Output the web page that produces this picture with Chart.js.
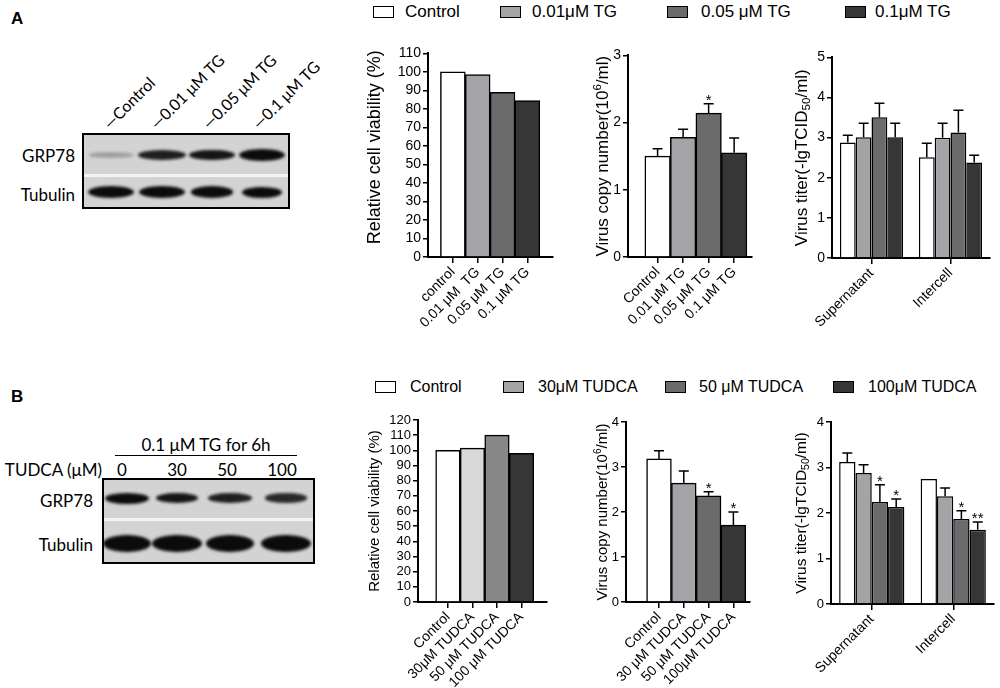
<!DOCTYPE html>
<html lang="en">
<head>
<meta charset="UTF-8">
<title>GRP78, TG and TUDCA</title>
<script src="https://cdn.jsdelivr.net/npm/chart.js"></script>
<style>
  body { margin: 0; background: #fff; }
  #page { position: relative; width: 1000px; height: 688px; overflow: hidden;
          font-family: "Liberation Sans", Arial, sans-serif; color: #000; }
  canvas.plot { position: absolute; }
  .leg { position: absolute; white-space: nowrap; line-height: 20px; }
  .box { position: absolute; width: 19px; height: 10px; border: 1.5px solid #000; }
  .panel { position: absolute; font-weight: bold; font-size: 17px; }
  .blot { position: absolute; border: 2px solid #000; background: #d3d3d3; overflow: hidden; }
  .sep { position: absolute; left: 0; right: 0; height: 3px; background: #f4f4f4; }
  .band { position: absolute; border-radius: 50%; background: #0b0b0b; filter: blur(1.6px); }
  .wb { position: absolute; font-family: Lato, "Open Sans", sans-serif; font-size: 17px; white-space: nowrap; }
</style>
</head>
<body>
<div id="page">
  <div class="panel" style="left:11px; top:9px;">A</div>
  <div class="panel" style="left:11px; top:387px;">B</div>

  <canvas class="plot" id="viabA"></canvas>
  <canvas class="plot" id="copyA"></canvas>
  <canvas class="plot" id="titerA"></canvas>
  <canvas class="plot" id="viabB"></canvas>
  <canvas class="plot" id="copyB"></canvas>
  <canvas class="plot" id="titerB"></canvas>
</div>

<script>
// ---- data ----
const tgSeries = ['Control', '0.01μM TG', '0.05 μM TG', '0.1μM TG'];
const tudcaSeries = ['Control', '30μM TUDCA', '50 μM TUDCA', '100μM TUDCA'];
const seriesColors = ['#ffffff', '#a3a3a8', '#6b6b6b', '#363636'];
const viabBColors = ['#ffffff', '#d9d9d9', '#878787', '#363636'];

const viabALabels = ['control', '0.01 μM  TG', '0.05 μM TG', '0.1 μM TG'];
const viabA = [100, 98.5, 89, 84.5];

const copyALabels = ['Control', '0.01 μM TG', '0.05 μM TG', '0.1 μM TG'];
const copyA = [1.50, 1.78, 2.14, 1.55];
const copyAErr = [0.11, 0.12, 0.14, 0.22];
const copyASig = ['', '', '*', ''];

const titerGroups = ['Supernatant', 'Intercell'];
const titerA = [[2.88, 2.51], [3.01, 3.00], [3.51, 3.13], [3.01, 2.38]];
const titerAErr = [[0.18, 0.35], [0.35, 0.36], [0.35, 0.55], [0.35, 0.18]];

const viabBLabels = ['Control', '30μM TUDCA', '50 μM TUDCA', '100 μM TUDCA'];
const viabB = [100, 101.5, 110, 98];

const copyBLabels = ['Control', '30 μM TUDCA', '50 μM TUDCA', '100μM TUDCA'];
const copyB = [3.18, 2.64, 2.36, 1.71];
const copyBErr = [0.18, 0.27, 0.09, 0.29];
const copyBSig = ['', '', '*', '*'];

const titerB = [[3.12, 2.75], [2.88, 2.37], [2.24, 1.87], [2.13, 1.63]];
const titerBErr = [[0.20, 0], [0.18, 0.18], [0.38, 0.18], [0.18, 0.17]];
const titerBSig = [['', ''], ['', ''], ['*', '*'], ['*', '**']];

// axis titles, split so the exponent / subscript can be drawn small
const viabTitle = [{ t: 'Relative cell viability (%)' }];
const copyTitle = [{ t: 'Virus copy number(10' }, { t: '6', s: 'sup' }, { t: '/ml)' }];
const titerTitle = [{ t: 'Virus titer(-lgTCID' }, { t: '50', s: 'sub' }, { t: '/ml)' }];

// western blot lanes (relative band strength)
const laneA = ['—Control', '—0.01 μM TG', '—0.05 μM TG', '—0.1 μM TG'];
const grp78A = [0.15, 0.8, 0.85, 1];
const tubulinA = [1, 1, 0.95, 0.9];
const laneB = ['0', '30', '50', '100'];
const grp78B = [1, 0.85, 0.8, 0.75];
const tubulinB = [1, 1, 1, 1];

Chart.defaults.color = '#000';
Chart.defaults.font.family = '"Liberation Sans", Arial, sans-serif';

const page = document.getElementById('page');

// upper error bars + significance marks
const errorBars = {
  id: 'errorBars',
  afterDatasetsDraw(chart, args, opts) {
    if (!opts.err) return;
    const ctx = chart.ctx, y = chart.scales.y;
    ctx.save();
    ctx.strokeStyle = '#000';
    ctx.fillStyle = '#000';
    ctx.lineWidth = 1.5;
    ctx.textAlign = 'center';
    ctx.font = '15px "Liberation Sans", Arial';
    chart.data.datasets.forEach((ds, i) => {
      chart.getDatasetMeta(i).data.forEach((bar, j) => {
        const raw = ds.data[j];
        const v = typeof raw === 'object' ? raw.y : raw;
        const e = opts.err[i][j];
        const top = y.getPixelForValue(v + e);
        if (e > 0) {
          ctx.beginPath();
          ctx.moveTo(bar.x, bar.y);
          ctx.lineTo(bar.x, top);
          ctx.moveTo(bar.x - 5, top);
          ctx.lineTo(bar.x + 5, top);
          ctx.stroke();
        }
        const s = opts.sig && opts.sig[i][j];
        if (s) ctx.fillText(s, bar.x, top + 1);
      });
    });
    ctx.restore();
  }
};

// rotated y title with real superscript / subscript
const richTitle = {
  id: 'richTitle',
  afterDraw(chart, args, o) {
    if (!o.parts) return;
    const ctx = chart.ctx, a = chart.chartArea;
    const font = p => (p.s ? o.size * 0.68 : o.size) + 'px "Liberation Sans", Arial';
    ctx.save();
    ctx.translate(a.left - o.offset, (a.top + a.bottom) / 2 + (o.shift || 0));
    ctx.rotate(-Math.PI / 2);
    ctx.fillStyle = '#000';
    ctx.textBaseline = 'middle';
    let total = 0;
    o.parts.forEach(p => { ctx.font = font(p); total += ctx.measureText(p.t).width; });
    let x = -total / 2;
    o.parts.forEach(p => {
      ctx.font = font(p);
      const dy = p.s === 'sup' ? -o.size * 0.32 : p.s === 'sub' ? o.size * 0.28 : 0;
      ctx.fillText(p.t, x, dy);
      x += ctx.measureText(p.t).width;
    });
    ctx.restore();
  }
};

const padTop = 10, padR = 6, hx = 90;

function placeCanvas(id, g) {
  const cv = document.getElementById(id);
  cv.style.left = (g.L - g.wy) + 'px';
  cv.style.top = (g.T - padTop) + 'px';
  cv.width = g.wy + g.R - g.L + padR;
  cv.height = padTop + g.B - g.T + hx;
  return cv;
}

function yScale(g, max, step, tickSize) {
  return {
    min: 0, max: max,
    border: { display: true, color: '#000', width: 2 },
    grid: { drawOnChartArea: false, drawTicks: true, tickLength: 5, color: '#000', lineWidth: 1.5 },
    ticks: { stepSize: step, autoSkip: false, font: { size: tickSize }, padding: 2, color: '#000' },
    afterFit: s => { s.width = g.wy; }
  };
}

function baseOptions(title) {
  return {
    responsive: false,
    animation: false,
    layout: { padding: { top: padTop, right: padR, left: 0, bottom: 0 } },
    plugins: { legend: { display: false }, tooltip: { enabled: false }, richTitle: title }
  };
}

// one bar per treatment, x on a linear scale so the bars sit flush together
function singleBars(id, g, labels, values, colors, xmin, xmax, y, title, err, sig) {
  const cv = placeCanvas(id, g);
  const opts = baseOptions(title);
  opts.plugins.errorBars = err ? { err: [err], sig: [sig] } : {};
  opts.scales = {
    x: {
      type: 'linear', min: xmin, max: xmax, offset: false,
      border: { display: true, color: '#000', width: 2 },
      grid: { drawOnChartArea: false, offset: false, tickLength: 6, color: '#000', lineWidth: 1.5 },
      afterBuildTicks: s => { s.ticks = labels.map((_, k) => ({ value: k + 1 })); },
      ticks: { autoSkip: false, minRotation: 45, maxRotation: 45, font: { size: 14 }, padding: 1, color: '#000',
               callback: (v, k) => labels[k] },
      afterFit: s => { s.height = hx; }
    },
    y: y
  };
  return new Chart(cv, {
    type: 'bar',
    data: { datasets: [{
      data: values.map((v, k) => ({ x: k + 1, y: v })),
      backgroundColor: colors, borderColor: '#000', borderWidth: 1.5,
      barPercentage: 1, categoryPercentage: 1
    }] },
    options: opts,
    plugins: [errorBars, richTitle]
  });
}

// grouped bars (Supernatant / Intercell)
function groupBars(id, g, series, values, err, sig, y, title) {
  const cv = placeCanvas(id, g);
  const opts = baseOptions(title);
  opts.plugins.errorBars = { err: err, sig: sig };
  opts.scales = {
    x: {
      border: { display: true, color: '#000', width: 2 },
      grid: { drawOnChartArea: false, offset: false, tickLength: 6, color: '#000', lineWidth: 1.5 },
      ticks: { autoSkip: false, minRotation: 45, maxRotation: 45, font: { size: 14 }, padding: 1, color: '#000' },
      afterFit: s => { s.height = hx; }
    },
    y: y
  };
  return new Chart(cv, {
    type: 'bar',
    data: {
      labels: titerGroups,
      datasets: series.map((name, i) => ({
        label: name, data: values[i],
        backgroundColor: seriesColors[i], borderColor: '#000', borderWidth: 1.5,
        barPercentage: 1, categoryPercentage: 0.8
      }))
    },
    options: opts,
    plugins: [errorBars, richTitle]
  });
}

// ---- panel A ----
const gA1 = { L: 428, R: 553, T: 53, B: 257, wy: 65 };
const gA2 = { L: 628, R: 752, T: 55, B: 257, wy: 37 };
const gA3 = { L: 832, R: 990, T: 57, B: 258, wy: 42 };
singleBars('viabA', gA1, viabALabels, viabA, seriesColors, 0, 5.03, yScale(gA1, 110, 10, 14),
  { parts: viabTitle, size: 18, offset: 53, shift: -8 });
singleBars('copyA', gA2, copyALabels, copyA, seriesColors, -0.16, 4.7, yScale(gA2, 3, 1, 14),
  { parts: copyTitle, size: 17, offset: 25 }, copyAErr, copyASig);
groupBars('titerA', gA3, tgSeries, titerA, titerAErr, null, yScale(gA3, 5, 1, 14),
  { parts: titerTitle, size: 17, offset: 30 });

// ---- panel B ----
const gB1 = { L: 418, R: 547, T: 420, B: 602, wy: 54 };
const gB2 = { L: 626, R: 750, T: 422, B: 602, wy: 34 };
const gB3 = { L: 831, R: 994, T: 422, B: 604, wy: 40 };
singleBars('viabB', gB1, viabBLabels, viabB, viabBColors, -0.22, 5.04, yScale(gB1, 120, 10, 13),
  { parts: viabTitle, size: 15, offset: 43 });
singleBars('copyB', gB2, copyBLabels, copyB, seriesColors, -0.33, 4.67, yScale(gB2, 4, 1, 13),
  { parts: copyTitle, size: 15, offset: 23 }, copyBErr, copyBSig);
groupBars('titerB', gB3, tudcaSeries, titerB, titerBErr, titerBSig, yScale(gB3, 4, 1, 13),
  { parts: titerTitle, size: 15.5, offset: 29 });

// ---- shared legends ----
function legend(names, boxX, textX, cy, size) {
  names.forEach((n, i) => {
    const b = document.createElement('div');
    b.className = 'box';
    b.style.left = boxX[i] + 'px';
    b.style.top = (cy - 6) + 'px';
    b.style.background = seriesColors[i];
    page.appendChild(b);
    const t = document.createElement('div');
    t.className = 'leg';
    t.style.left = textX[i] + 'px';
    t.style.top = (cy - 10) + 'px';
    t.style.fontSize = size + 'px';
    t.textContent = n;
    page.appendChild(t);
  });
}
legend(tgSeries, [373, 500, 667, 845], [405, 532, 701, 875], 12, 17);
legend(tudcaSeries, [375, 503, 665, 833], [410, 538, 699, 868], 387, 16);

// ---- western blots ----
function addText(txt, css) {
  const d = document.createElement('div');
  d.className = 'wb';
  d.textContent = txt;
  Object.assign(d.style, css);
  page.appendChild(d);
  return d;
}

function blot(box, sepY, lanes, rows) {
  const b = document.createElement('div');
  b.className = 'blot';
  Object.assign(b.style, { left: box.x + 'px', top: box.y + 'px', width: box.w + 'px', height: box.h + 'px' });
  const s = document.createElement('div');
  s.className = 'sep';
  s.style.top = sepY + 'px';
  b.appendChild(s);
  rows.forEach(r => {
    r.vals.forEach((v, k) => {
      const h = r.h0 + r.h1 * v;
      const w = r.w[k];
      const d = document.createElement('div');
      d.className = 'band';
      Object.assign(d.style, {
        left: (lanes[k] - w / 2) + 'px', top: (r.cy - h / 2) + 'px',
        width: w + 'px', height: h + 'px', opacity: Math.min(1, 0.1 + v)
      });
      b.appendChild(d);
    });
  });
  page.appendChild(b);
}

// blot A
blot({ x: 82, y: 133, w: 204, h: 72 }, 39, [27, 78, 128, 178], [
  { cy: 20, vals: grp78A, w: [44, 48, 46, 46], h0: 4, h1: 8 },
  { cy: 57, vals: tubulinA, w: [46, 46, 42, 40], h0: 2, h1: 10 }
]);
addText('GRP78', { right: (1000 - 75) + 'px', top: '145px' });
addText('Tubulin', { right: (1000 - 75) + 'px', top: '184px' });
laneA.forEach((t, k) => {
  const x = [113, 160, 212, 262][k];
  addText(t, { left: x + 'px', top: '113px', lineHeight: '20px',
    transformOrigin: '0 100%', transform: 'rotate(-45deg)', fontSize: '16px' });
});

// blot B
blot({ x: 102, y: 478, w: 209, h: 82 }, 38, [23, 73, 126, 182], [
  { cy: 18, vals: grp78B, w: [44, 42, 44, 42], h0: 4, h1: 7 },
  { cy: 63, vals: tubulinB, w: [48, 50, 48, 50], h0: 4, h1: 13 }
]);
addText('0.1 μM TG for 6h', { left: '115px', width: '182px', textAlign: 'center', top: '434px' });
const rule = document.createElement('div');
Object.assign(rule.style, { position: 'absolute', left: '115px', top: '455px', width: '182px', height: '1px', background: '#000' });
page.appendChild(rule);
addText('TUDCA (μM)', { right: (1000 - 102) + 'px', top: '459px' });
laneB.forEach((t, k) => {
  const cx = [122, 177, 227, 282][k];
  addText(t, { left: (cx - 20) + 'px', width: '40px', textAlign: 'center', top: '459px' });
});
addText('GRP78', { right: (1000 - 93) + 'px', top: '490px' });
addText('Tubulin', { right: (1000 - 93) + 'px', top: '534px' });
</script>
</body>
</html>
